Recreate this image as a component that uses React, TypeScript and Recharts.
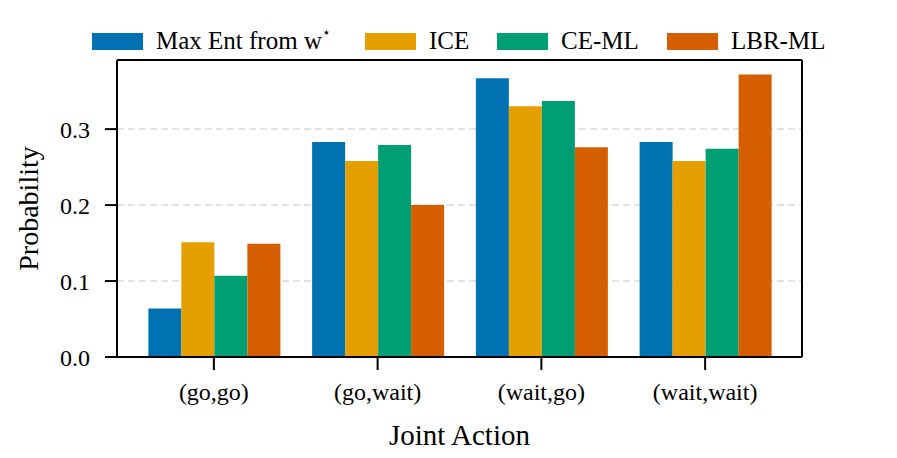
import React from 'react';
import { BarChart, Bar, XAxis, YAxis, CartesianGrid } from 'recharts';

const actions = ['(go,go)', '(go,wait)', '(wait,go)', '(wait,wait)'];
const maxEnt = [0.064, 0.283, 0.367, 0.283];
const ice = [0.151, 0.258, 0.33, 0.258];
const ceMl = [0.107, 0.279, 0.337, 0.274];
const lbrMl = [0.149, 0.2, 0.276, 0.372];
const yTicks = [0, 0.1, 0.2, 0.3];

const series = [
  { key: 'maxEnt', label: 'Max Ent from w', sup: '⋆', color: '#0072b2', values: maxEnt },
  { key: 'ice', label: 'ICE', sup: '', color: '#e69f00', values: ice },
  { key: 'ceMl', label: 'CE-ML', sup: '', color: '#009e73', values: ceMl },
  { key: 'lbrMl', label: 'LBR-ML', sup: '', color: '#d55e00', values: lbrMl },
];

// legend item widths (swatch + text + gap)
const legendWidths = [273, 132, 170, 170];

const data = actions.map((name, i) => {
  const row: Record<string, string | number> = { name };
  series.forEach((s) => {
    row[s.key] = s.values[i];
  });
  return row;
});

const font = '"Liberation Serif", "DejaVu Serif", serif';
const axisStroke = { stroke: '#000', strokeWidth: 2 };

const App: React.FC = () => {
  return (
    <div style={{ position: 'absolute', left: 0, top: 0, width: 897, height: 458, background: '#fff', fontFamily: font }}>
      <div
        style={{
          position: 'absolute',
          top: 27,
          left: 92,
          display: 'flex',
          alignItems: 'center',
          fontSize: 25,
          color: '#000',
          whiteSpace: 'nowrap',
        }}
      >
        {series.map((s, i) => (
          <div key={s.key} style={{ display: 'flex', alignItems: 'center', width: legendWidths[i] }}>
            <span style={{ display: 'inline-block', width: 51, height: 17, background: s.color, marginRight: 13 }} />
            <span>
              {s.label}
              {s.sup && <sup style={{ fontSize: 14, verticalAlign: 'top', position: 'relative', top: -3 }}>{s.sup}</sup>}
            </span>
          </div>
        ))}
      </div>
      <BarChart
        width={897}
        height={458}
        data={data}
        margin={{ top: 59, right: 94, left: 0, bottom: 0 }}
        barCategoryGap="10%"
        barGap={0}
      >
        <CartesianGrid vertical={false} stroke="#d9d9d9" strokeWidth={1.5} strokeDasharray="7 4" />
        <XAxis
          dataKey="name"
          height={101}
          padding={{ left: 15, right: 15 }}
          axisLine={axisStroke}
          tickLine={axisStroke}
          tickSize={13}
          tickMargin={13}
          tick={{ fill: '#000', fontSize: 24, fontFamily: font }}
          label={{ value: 'Joint Action', position: 'insideBottom', offset: 13, fill: '#000', fontSize: 29, fontFamily: font }}
        />
        <XAxis xAxisId="top" orientation="top" dataKey="name" height={1} tick={false} tickLine={false} axisLine={axisStroke} />
        <YAxis
          width={117}
          domain={[0, 0.391]}
          ticks={yTicks}
          allowDataOverflow
          tickFormatter={(v: number) => v.toFixed(1)}
          axisLine={axisStroke}
          tickLine={axisStroke}
          tickSize={12}
          tickMargin={15}
          tick={{ fill: '#000', fontSize: 24, fontFamily: font }}
          label={{
            value: 'Probability',
            angle: -90,
            position: 'insideLeft',
            offset: 28,
            fill: '#000',
            fontSize: 28,
            fontFamily: font,
            style: { textAnchor: 'middle' },
          }}
        />
        <YAxis yAxisId="right" orientation="right" width={1} domain={[0, 0.391]} ticks={yTicks} tick={false} tickLine={false} axisLine={axisStroke} />
        {series.map((s) => (
          <Bar key={s.key} dataKey={s.key} fill={s.color} isAnimationActive={false} />
        ))}
      </BarChart>
    </div>
  );
};

export default App;
